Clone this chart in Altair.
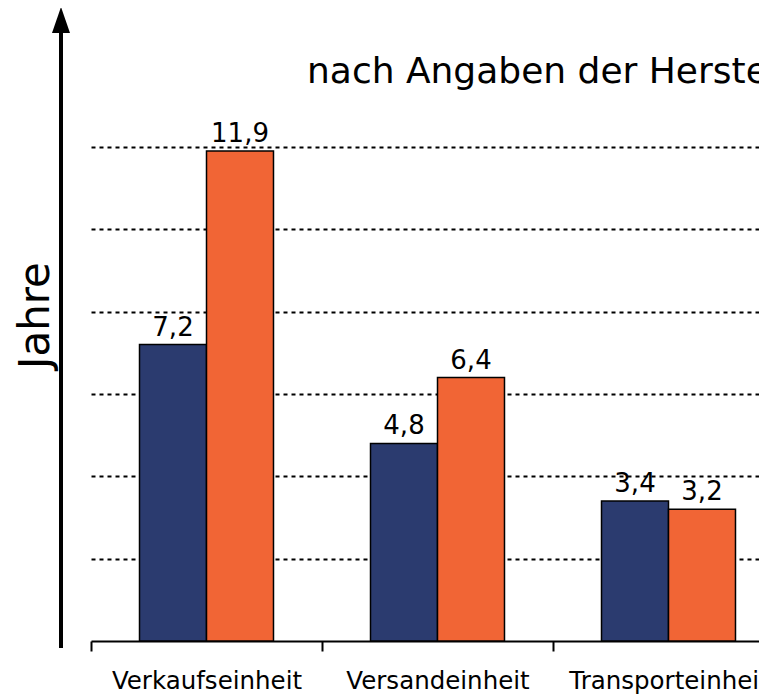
import altair as alt
import pandas as pd

categories = ["Verkaufseinheit", "Versandeinheit", "Transporteinheit"]
series = ["Serie 1", "Serie 2"]
values_1 = [7.2, 4.8, 3.4]
values_2 = [11.9, 6.4, 3.2]
title_text = "nach Angaben der Hersteller"
y_axis_title = "Jahre"
grid_values = [2, 4, 6, 8, 10, 12]
colors = ["#2B3B6F", "#F16535"]

rows = []
for c, a, b in zip(categories, values_1, values_2):
    rows.append({"Kategorie": c, "Serie": series[0], "Wert": a})
    rows.append({"Kategorie": c, "Serie": series[1], "Wert": b})
df = pd.DataFrame(rows)

W = 668
H = 494
FONT = "DejaVu Sans"

x_enc = alt.X(
    "Kategorie:N",
    sort=categories,
    scale=alt.Scale(range=[0, 693], paddingInner=0, paddingOuter=0),
    axis=alt.Axis(
        title=None, labelFontSize=24.5, labelFont=FONT, labelColor="black",
        labelPadding=18, labelLimit=0, tickSize=10, tickWidth=2, tickColor="black",
        domainColor="black", domainWidth=2, tickBand="extent", labelAngle=0,
        grid=False,
    ),
)
xoff = alt.XOffset("Serie:N", sort=series, scale=alt.Scale(paddingOuter=0.724, paddingInner=0))
y_enc = alt.Y(
    "Wert:Q",
    scale=alt.Scale(domain=[0, 12], nice=False),
    axis=alt.Axis(
        title=y_axis_title, values=grid_values, grid=True, gridColor="black",
        gridDash=[4, 4], gridWidth=2, domain=False, ticks=False, labels=False,
        titleFont=FONT, titleFontSize=42, titleFontWeight="normal", titleColor="black",
        titleAngle=270, titleX=-56, titleY=168, titleAlign="center", titleBaseline="middle",
    ),
)

base = alt.Chart(df)
bars = base.mark_bar(stroke="black", strokeWidth=1.5).encode(
    x=x_enc, xOffset=xoff, y=y_enc,
    color=alt.Color("Serie:N", scale=alt.Scale(domain=series, range=colors), legend=None),
)
labels = base.transform_calculate(
    lab="replace(format(datum.Wert, '.1f'), '.', ',')"
).mark_text(baseline="alphabetic", dy=-9, fontSize=26, font=FONT, color="black").encode(
    x=x_enc, xOffset=xoff, y=alt.Y("Wert:Q"), text="lab:N"
)

one = pd.DataFrame({"t": [title_text]})
arrow = alt.Chart(one).mark_rule(strokeWidth=4, color="black").encode(
    x=alt.value(-30), y=alt.value(-115), y2=alt.value(H + 7)
)
tri = alt.Chart(one).mark_point(
    shape="M0,-1.3L0.9,1.3L-0.9,1.3Z", size=400, filled=True, color="black", opacity=1
).encode(x=alt.value(-30), y=alt.value(-127))
title = alt.Chart(one).mark_text(
    align="left", baseline="alphabetic", fontSize=36, font=FONT, color="black"
).encode(x=alt.value(216), y=alt.value(-64), text="t:N")

chart = alt.layer(bars, labels, arrow, tri, title).properties(
    width=W, height=H,
    autosize=alt.AutoSizeParams(type="none"),
    padding={"left": 83, "top": 139, "right": 0, "bottom": 56},
).configure_view(stroke=None)

chart.save("out.html", embed_options={"renderer": "svg", "actions": False})
